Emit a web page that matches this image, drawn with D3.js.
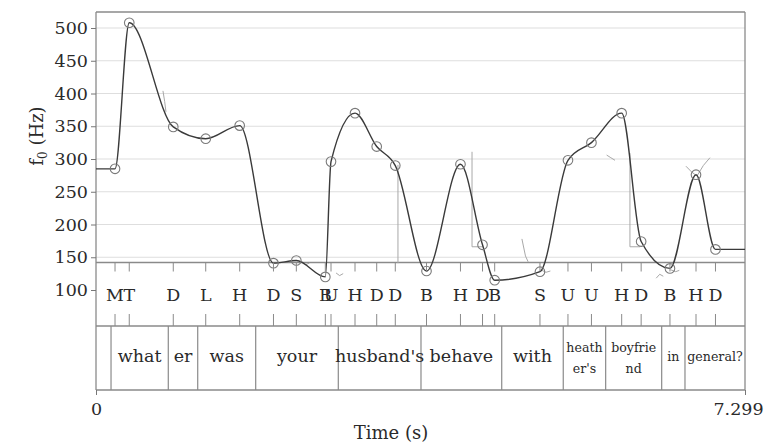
<!DOCTYPE html>
<html>
<head>
<meta charset="utf-8">
<script src="https://cdn.jsdelivr.net/npm/d3@7"></script>
<style>
  body { margin: 0; background: #fff; }
  text { font-family: "DejaVu Serif", serif; fill: #2a2a2a; }
</style>
</head>
<body>
<svg id="chart" width="772" height="444"></svg>
<script>
// Duration of the utterance (s)
const timeMax = 7.299;

// Tonal targets: label, time (s), f0 (Hz)
const toneLabels = ["M","T","D","L","H","D","S","B","U","H","D","D","B","H","D","B","S","U","U","H","D","B","H","D"];
const toneTimes  = [0.214,0.374,0.869,1.234,1.616,1.996,2.253,2.579,2.643,2.913,3.157,3.366,3.717,4.099,4.347,4.484,4.993,5.308,5.572,5.912,6.131,6.455,6.748,6.967];
const toneHz     = [285,508,349,331,351,141,145,120,296,370,319,290,129,292,169,115,128,298,325,370,174,133,276,162];

// Word tier: interval boundaries (s) and the word in each interval
const wordBounds = [0,0.169,0.813,1.144,1.796,2.725,3.655,4.563,5.255,5.732,6.362,6.624,7.299];
const wordLabels = ["","what","er","was","your","husband's","behave","with","heath\ner's","boyfrie\nnd","in","general?"];

// Fragments of the raw pitch track, [time (s), f0 (Hz)]
const rawFragments = [
  [[0.753,404],[0.772,388],[0.787,372]],
  [[3.396,291],[3.396,141]],
  [[4.229,311],[4.229,166],[4.35,166]],
  [[6.005,309],[6.005,166],[6.12,166]],
  [[6.635,289],[6.70,280],[6.759,274],[6.83,290],[6.905,302]],
  [[5.743,306],[5.79,302],[5.837,298]],
  [[4.79,178],[4.83,152],[4.86,143]],
  [[5.00,131],[5.06,127],[5.11,129]],
  [[6.30,118],[6.34,124],[6.38,121]],
  [[6.46,131],[6.52,128],[6.56,130]],
  [[2.36,139],[2.40,141]],
  [[2.70,126],[2.74,122],[2.78,125]]
];

// Axis ticks
const fTicks = [100,150,200,250,300,350,400,450,500];
const timeTicks = [0, timeMax];
const timeTickLabels = ["0","7.299"];

const svg = d3.select("#chart");

// Frame geometry
const frameL = 96, frameR = 745, frameT = 12, frameB = 390;
const tierTop = 262.5, tierMid = 326;

const x = d3.scaleLinear().domain([0, timeMax]).range([frameL, frameR]);
const y = d3.scaleLinear().domain([100, 500]).range([290, 28]);

// Horizontal grid lines in the pitch area
svg.append("g").selectAll("line")
  .data(fTicks.filter(d => y(d) < tierTop))
  .join("line")
  .attr("x1", frameL).attr("x2", frameR)
  .attr("y1", d => y(d)).attr("y2", d => y(d))
  .attr("stroke", "#dedede").attr("stroke-width", 1.2);

// Frame and tier separators
const frame = svg.append("g").attr("stroke", "#8a8a8a").attr("stroke-width", 1.3).attr("fill", "none");
frame.append("line").attr("x1", frameL).attr("x2", frameR).attr("y1", frameT).attr("y2", frameT);
frame.append("line").attr("x1", frameR).attr("x2", frameR).attr("y1", frameT).attr("y2", frameB);
frame.append("line").attr("x1", frameL).attr("x2", frameL).attr("y1", frameT).attr("y2", frameB);
frame.append("line").attr("x1", frameL).attr("x2", frameR).attr("y1", tierTop).attr("y2", tierTop);
frame.append("line").attr("x1", frameL).attr("x2", frameR).attr("y1", tierMid).attr("y2", tierMid);
frame.append("line").attr("x1", frameL).attr("x2", frameR).attr("y1", frameB).attr("y2", frameB);

// Raw pitch fragments
const line = d3.line().x(d => x(d[0])).y(d => y(d[1]));
svg.append("g").selectAll("path")
  .data(rawFragments)
  .join("path")
  .attr("d", line)
  .attr("fill", "none").attr("stroke", "#a8a8a8").attr("stroke-width", 1);

// Stylised contour through the tonal targets
const targets = toneTimes.map((t, i) => [t, toneHz[i]]);
const contour = [[0, toneHz[0]], ...targets, [timeMax, toneHz[toneHz.length - 1]]];
svg.append("path")
  .datum(contour)
  .attr("d", d3.line().x(d => x(d[0])).y(d => y(d[1])).curve(d3.curveMonotoneX))
  .attr("fill", "none").attr("stroke", "#3a3a3a").attr("stroke-width", 1.4);

svg.append("g").selectAll("circle")
  .data(targets)
  .join("circle")
  .attr("cx", d => x(d[0])).attr("cy", d => y(d[1])).attr("r", 4.8)
  .attr("fill", "none").attr("stroke", "#7a7a7a").attr("stroke-width", 1.1);

// Tone tier: tick marks and labels
const tones = toneTimes.map((t, i) => ({ t, label: toneLabels[i] }));
const toneG = svg.append("g");
toneG.selectAll("line.top").data(tones).join("line").attr("class", "top")
  .attr("x1", d => x(d.t)).attr("x2", d => x(d.t))
  .attr("y1", tierTop).attr("y2", tierTop + 9)
  .attr("stroke", "#8a8a8a").attr("stroke-width", 1);
toneG.selectAll("line.bot").data(tones).join("line").attr("class", "bot")
  .attr("x1", d => x(d.t)).attr("x2", d => x(d.t))
  .attr("y1", tierMid - 12).attr("y2", tierMid)
  .attr("stroke", "#8a8a8a").attr("stroke-width", 1);
toneG.selectAll("text").data(tones).join("text")
  .attr("x", d => x(d.t)).attr("y", 301)
  .attr("text-anchor", "middle").attr("font-size", 17.5)
  .text(d => d.label);

// Word tier: boundaries and labels
const wordG = svg.append("g");
wordG.selectAll("line").data(wordBounds.slice(1, -1)).join("line")
  .attr("x1", d => x(d)).attr("x2", d => x(d))
  .attr("y1", tierMid).attr("y2", frameB)
  .attr("stroke", "#8a8a8a").attr("stroke-width", 1.2);

// Full-size label in wide intervals or where it fits with some padding;
// otherwise a compact label, wrapped where the word has a break.
const words = wordLabels.map((w, i) => ({ w, a: wordBounds[i], b: wordBounds[i + 1] }));
words.forEach(d => {
  if (!d.w) return;
  const cx = (x(d.a) + x(d.b)) / 2;
  const width = x(d.b) - x(d.a);
  const lines = d.w.split("\n");
  const t = wordG.append("text").attr("text-anchor", "middle").attr("font-size", 17.5)
    .attr("x", cx).attr("y", 362).text(lines[0]);
  const len = t.node().getComputedTextLength();
  const fits = lines.length === 1 && (len + 8 <= width || width > 70);
  if (!fits) {
    t.attr("font-size", 12.6);
    if (lines.length > 1) {
      t.attr("y", 352);
      wordG.append("text").attr("text-anchor", "middle").attr("font-size", 12.6)
        .attr("x", cx).attr("y", 372.5).text(lines[1]);
    } else {
      t.attr("y", 361);
    }
  }
});

// f0 axis
const yAxis = svg.append("g")
  .attr("transform", `translate(${frameL},0)`)
  .call(d3.axisLeft(y).tickValues(fTicks).tickSize(5).tickPadding(3));
yAxis.select(".domain").remove();
yAxis.selectAll(".tick line").attr("stroke", "#777");
yAxis.selectAll(".tick text")
  .attr("font-family", "DejaVu Serif, serif").attr("font-size", 17.5).attr("fill", "#2a2a2a");

// Time axis
const xAxis = svg.append("g")
  .attr("transform", `translate(0,${frameB})`)
  .call(d3.axisBottom(x).tickValues(timeTicks).tickSize(5).tickPadding(8)
    .tickFormat((d, i) => timeTickLabels[i]));
xAxis.select(".domain").remove();
xAxis.selectAll(".tick line").attr("stroke", "#777");
xAxis.selectAll(".tick text")
  .attr("font-family", "DejaVu Serif, serif").attr("font-size", 17.5).attr("fill", "#2a2a2a");
xAxis.selectAll(".tick").filter((d, i) => i === 1).select("text").attr("dx", -7);

// Axis titles
svg.append("text")
  .attr("x", 391).attr("y", 439)
  .attr("text-anchor", "middle").attr("font-size", 18)
  .text("Time (s)");

const yTitle = svg.append("text")
  .attr("transform", "translate(43,136) rotate(-90)")
  .attr("text-anchor", "middle").attr("font-size", 18);
yTitle.append("tspan").text("f");
yTitle.append("tspan").attr("font-size", 12).attr("dy", 4).text("0");
yTitle.append("tspan").attr("dy", -4).text(" (Hz)");
</script>
</body>
</html>
